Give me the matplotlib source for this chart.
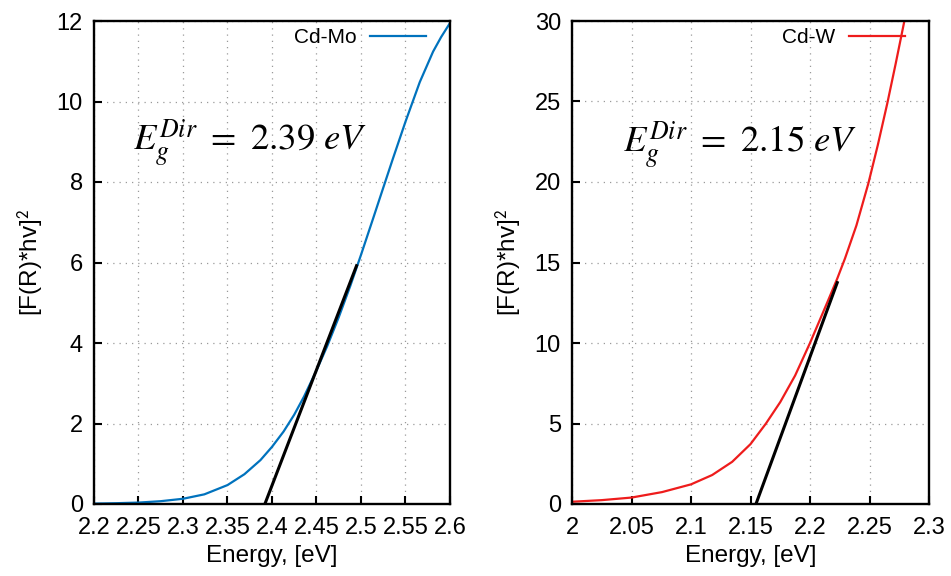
import matplotlib.pyplot as plt

plt.rcParams['font.family'] = ['Liberation Sans', 'DejaVu Sans']
plt.rcParams['mathtext.fontset'] = 'stix'

# Cd-Mo data
mo_energy = [2.200, 2.225, 2.250, 2.275, 2.300, 2.324, 2.350, 2.369, 2.387, 2.400,
             2.413, 2.425, 2.436, 2.450, 2.462, 2.475, 2.488, 2.500, 2.514, 2.524,
             2.536, 2.550, 2.566, 2.581, 2.590, 2.600]
mo_value = [0.01, 0.02, 0.035, 0.07, 0.13, 0.24, 0.47, 0.74, 1.09, 1.42,
            1.80, 2.22, 2.67, 3.32, 3.92, 4.64, 5.42, 6.19, 7.12, 7.79,
            8.59, 9.50, 10.48, 11.24, 11.60, 11.95]
mo_fit_x = [2.392, 2.495]
mo_fit_y = [0.0, 5.92]

# Cd-W data
w_energy = [2.000, 2.025, 2.050, 2.0757, 2.100, 2.1178, 2.1346, 2.150, 2.163,
            2.175, 2.1875, 2.200, 2.2147, 2.2229, 2.2294, 2.239, 2.249, 2.257,
            2.265, 2.272, 2.2793]
w_value = [0.14, 0.24, 0.40, 0.74, 1.22, 1.80, 2.62, 3.72, 5.00,
           6.33, 7.98, 10.00, 12.55, 14.00, 15.25, 17.30, 19.90, 22.30,
           24.90, 27.35, 30.00]
w_fit_x = [2.1546, 2.2229]
w_fit_y = [0.0, 13.75]

fig = plt.figure(figsize=(9.51, 5.76), dpi=100)
ax1 = fig.add_axes([94 / 951, 72 / 576, 356 / 951, 483 / 576])
ax2 = fig.add_axes([572 / 951, 72 / 576, 357 / 951, 483 / 576])


def style(ax, xticks, yticks, xlim, ylim):
    ax.set_xlim(*xlim)
    ax.set_ylim(*ylim)
    ax.set_xticks(xticks)
    ax.set_yticks(yticks)
    ax.set_xticklabels([f"{t:g}" for t in xticks])
    ax.set_yticklabels([f"{t:g}" for t in yticks])
    ax.tick_params(direction='in', length=5.5, width=1.5, labelsize=17,
                   top=False, right=False)
    ax.tick_params(axis='x', pad=9)
    ax.tick_params(axis='y', pad=8)
    for s in ax.spines.values():
        s.set_linewidth(1.7)
    ax.grid(True, linestyle=(0, (1, 4)), color='#9a9a9a', linewidth=0.9)
    ax.set_axisbelow(True)
    ax.set_xlabel('Energy, [eV]', fontsize=17.5, labelpad=5)
    ax.set_ylabel('[F(R)*hv]$^{\\mathsf{2}}$', fontsize=17.5, labelpad=8)


def legend(ax):
    ax.legend(loc='upper right', bbox_to_anchor=(0.933, 0.9855), frameon=False,
              fontsize=15, markerfirst=False, handlelength=2.7,
              borderaxespad=0, borderpad=0, handletextpad=0.63)


# Cd-Mo panel
style(ax1, [2.2, 2.25, 2.3, 2.35, 2.4, 2.45, 2.5, 2.55, 2.6],
      [0, 2, 4, 6, 8, 10, 12], (2.2, 2.6), (0, 12))
ax1.plot(mo_energy, mo_value, color='#0072bd', linewidth=1.6, label='Cd-Mo')
ax1.plot(mo_fit_x, mo_fit_y, color='black', linewidth=2.2)
ax1.text(0.11, 0.73, r'$E_g^{Dir}\ =\ 2.39\ eV$', transform=ax1.transAxes,
         fontsize=26.5, va='baseline')
legend(ax1)

# Cd-W panel
style(ax2, [2.0, 2.05, 2.1, 2.15, 2.2, 2.25, 2.3],
      [0, 5, 10, 15, 20, 25, 30], (2.0, 2.3), (0, 30))
ax2.plot(w_energy, w_value, color='#ee1c1c', linewidth=1.6, label='Cd-W')
ax2.plot(w_fit_x, w_fit_y, color='black', linewidth=2.2)
ax2.text(0.143, 0.727, r'$E_g^{Dir}\ =\ 2.15\ eV$', transform=ax2.transAxes,
         fontsize=26.5, va='baseline')
legend(ax2)

fig.savefig('out.png', dpi=100)
